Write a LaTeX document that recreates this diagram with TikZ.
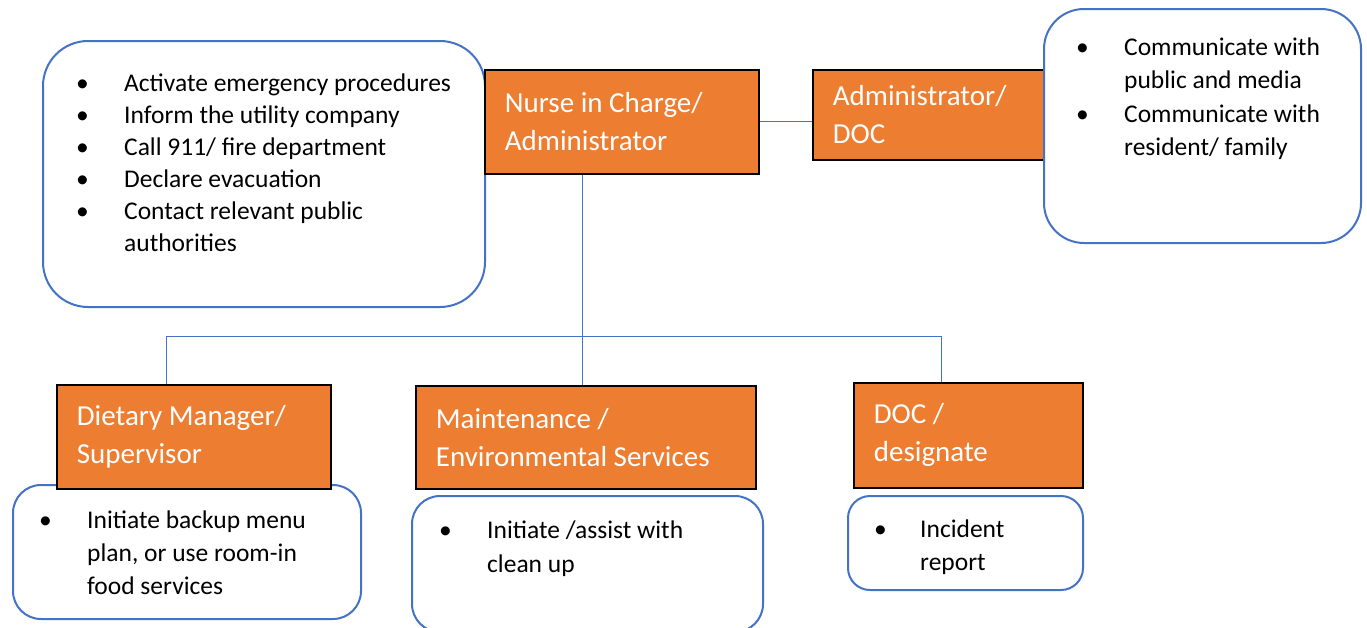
\documentclass[tikz,border=0pt]{standalone}
\usepackage{fontspec}
\setmainfont{Carlito}
\definecolor{boxorange}{HTML}{ED7D31}
\definecolor{lineblue}{HTML}{4472C4}
\newcommand{\bul}{\makebox[48pt][l]{\textbullet}}
\tikzset{
  obox/.style={draw=black, line width=1.8pt, fill=boxorange, text=white, anchor=north west,
    align=flush left, inner xsep=20pt, inner ysep=0pt, font=\fontsize{29}{38}\selectfont},
  rbox/.style={draw=lineblue, line width=2pt, fill=white, anchor=north west, inner sep=0pt},
  list/.style={anchor=base west, inner sep=0pt, font=\fontsize{25.5}{33}\selectfont},
  link/.style={draw=lineblue, line width=0.9pt}
}
\begin{document}
\begin{tikzpicture}[x=1pt,y=-1pt]
  \useasboundingbox[fill=white] (0,0) rectangle (1367,627);
  \node[rbox, rounded corners=45pt, minimum width=442pt, minimum height=266pt] (actbox) at (42,40) {};
  \node[obox, text width=234pt, minimum height=104pt] (nurse) at (484,69) {Nurse in Charge/\\Administrator};
  \node[obox, text width=191pt, minimum height=90pt] (admin) at (812,69) {Administrator/\\DOC};
  \node[rbox, rounded corners=40pt, minimum width=317pt, minimum height=234pt] (commbox) at (1043,8) {};
  \node[rbox, rounded corners=28pt, minimum width=348pt, minimum height=134pt] (dietbox) at (12,484) {};
  \node[rbox, rounded corners=28pt, minimum width=351pt, minimum height=136pt] (maintbox) at (411,495) {};
  \node[rbox, rounded corners=22pt, minimum width=235pt, minimum height=94pt] (docbox) at (847,495) {};
  \node[obox, text width=234pt, minimum height=104pt] (diet) at (56,384) {Dietary Manager/\\Supervisor};
  \node[obox, text width=300pt, minimum height=103pt] (maint) at (415,385) {Maintenance /\\Environmental Services};
  \node[obox, text width=189pt, minimum height=105pt] (doc) at (853,382) {DOC /\\designate};
  \node[list, font=\fontsize{25.5}{32}\selectfont] (actlist) at (76,91) {\begin{tabular}[t]{@{}l@{}l@{}}
    \bul & Activate emergency procedures\\
    \bul & Inform the utility company\\
    \bul & Call 911/ fire department\\
    \bul & Declare evacuation\\
    \bul & Contact relevant public\\
         & authorities
  \end{tabular}};
  \node[list, font=\fontsize{25.5}{33.5}\selectfont] (commlist) at (1076,55) {\begin{tabular}[t]{@{}l@{}l@{}}
    \bul & Communicate with\\
         & public and media\\
    \bul & Communicate with\\
         & resident/ family
  \end{tabular}};
  \node[list] (dietlist) at (39,528) {\begin{tabular}[t]{@{}l@{}l@{}}
    \bul & Initiate backup menu\\
         & plan, or use room-in\\
         & food services
  \end{tabular}};
  \node[list, font=\fontsize{25.5}{34}\selectfont] (maintlist) at (439,538) {\begin{tabular}[t]{@{}l@{}l@{}}
    \bul & Initiate /assist with\\
         & clean up
  \end{tabular}};
  \node[list] (doclist) at (874,537) {\begin{tabular}[t]{@{}l@{}l@{}}
    \makebox[46pt][l]{\textbullet} & Incident\\
         & report
  \end{tabular}};
  \coordinate (hub) at (582,336);
  \coordinate (lft) at (166,336);
  \coordinate (rgt) at (941,336);
  \begin{scope}[link]
    \draw (nurse.east) -- (nurse.east -| admin.west);
    \draw (nurse.south -| hub) -- (hub);
    \draw (lft) -- (rgt);
    \draw (lft) -- (lft |- diet.north);
    \draw (hub) -- (hub |- maint.north);
    \draw (rgt) -- (rgt |- doc.north);
  \end{scope}
\end{tikzpicture}
\end{document}
